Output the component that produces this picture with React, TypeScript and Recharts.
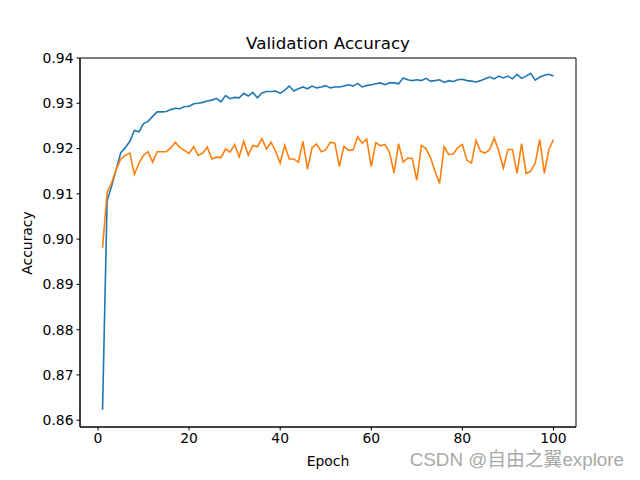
import React from "react";
import { LineChart, Line, XAxis, YAxis, ReferenceArea } from "recharts";

const epochs: number[] = Array.from({ length: 100 }, (_, i) => i + 1);

const trainAcc: number[] = [
  0.8623, 0.9085, 0.9117, 0.9154, 0.9191, 0.9202, 0.9216, 0.9240, 0.9237, 0.9255,
  0.9260, 0.9271, 0.9281, 0.9281, 0.9282, 0.9286, 0.9289, 0.9288, 0.9293, 0.9293,
  0.9299, 0.9300, 0.9302, 0.9305, 0.9307, 0.9311, 0.9303, 0.9317, 0.9310, 0.9313,
  0.9312, 0.9322, 0.9316, 0.9324, 0.9312, 0.9323, 0.9326, 0.9326, 0.9327, 0.9322,
  0.9329, 0.9338, 0.9327, 0.9332, 0.9336, 0.9332, 0.9338, 0.9334, 0.9336, 0.9339,
  0.9334, 0.9336, 0.9336, 0.9338, 0.9341, 0.9338, 0.9344, 0.9336, 0.9339, 0.9341,
  0.9343, 0.9345, 0.9341, 0.9345, 0.9345, 0.9343, 0.9356, 0.9352, 0.9350, 0.9352,
  0.9350, 0.9355, 0.9349, 0.9350, 0.9352, 0.9346, 0.9350, 0.9348, 0.9352, 0.9353,
  0.9350, 0.9349, 0.9347, 0.9350, 0.9354, 0.9358, 0.9354, 0.9360, 0.9356, 0.9360,
  0.9354, 0.9364, 0.9355, 0.9360, 0.9366, 0.9351, 0.9358, 0.9362, 0.9364, 0.9360,
];

const valAcc: number[] = [
  0.8981, 0.9103, 0.9124, 0.9154, 0.9177, 0.9185, 0.9190, 0.9143, 0.9168, 0.9185,
  0.9193, 0.9170, 0.9193, 0.9193, 0.9193, 0.9202, 0.9214, 0.9202, 0.9196, 0.9189,
  0.9204, 0.9185, 0.9190, 0.9203, 0.9177, 0.9181, 0.9180, 0.9199, 0.9192, 0.9209,
  0.9182, 0.9216, 0.9185, 0.9207, 0.9204, 0.9222, 0.9199, 0.9214, 0.9194, 0.9168,
  0.9207, 0.9177, 0.9177, 0.9170, 0.9216, 0.9154, 0.9202, 0.9210, 0.9193, 0.9197,
  0.9214, 0.9212, 0.9160, 0.9205, 0.9196, 0.9197, 0.9226, 0.9212, 0.9221, 0.9160,
  0.9213, 0.9206, 0.9209, 0.9192, 0.9146, 0.9211, 0.9170, 0.9179, 0.9178, 0.9130,
  0.9207, 0.9200, 0.9180, 0.9150, 0.9123, 0.9204, 0.9187, 0.9188, 0.9202, 0.9209,
  0.9174, 0.9168, 0.9218, 0.9194, 0.9190, 0.9198, 0.9223, 0.9194, 0.9157, 0.9198,
  0.9198, 0.9145, 0.9211, 0.9145, 0.9150, 0.9168, 0.9220, 0.9145, 0.9198, 0.9220,
];

const xTicks: number[] = [0, 20, 40, 60, 80, 100];
const yTicks: number[] = [0.86, 0.87, 0.88, 0.89, 0.9, 0.91, 0.92, 0.93, 0.94];

const titleText = "Validation Accuracy";
const xLabel = "Epoch";
const yLabel = "Accuracy";
const watermark = "CSDN @自由之翼explore";

const data = epochs.map((e, i) => ({ epoch: e, train: trainAcc[i], val: valAcc[i] }));

const FONT = "DejaVu Sans, sans-serif";
const X_DOMAIN: [number, number] = [-3.95, 104.95];
const Y_DOMAIN: [number, number] = [0.8585, 0.94];

export default function App() {
  const tickStyle = { fill: "#000", fontSize: 13.9, fontFamily: FONT };
  return (
    <div style={{ position: "absolute", left: 0, top: 0, width: 640, height: 480, background: "#fff", fontFamily: FONT }}>
      <LineChart width={640} height={480} data={data} margin={{ top: 58, right: 64, left: 0, bottom: 0 }}>
        <XAxis
          dataKey="epoch"
          type="number"
          domain={X_DOMAIN}
          ticks={xTicks}
          allowDataOverflow
          height={53}
          tick={tickStyle}
          tickSize={3.5}
          tickMargin={3}
          stroke="#000"
          tickLine={{ stroke: "#000" }}
          axisLine={{ stroke: "#000" }}
        />
        <YAxis
          type="number"
          domain={Y_DOMAIN}
          ticks={yTicks}
          allowDataOverflow
          width={80}
          tick={tickStyle}
          tickSize={3.5}
          tickMargin={3}
          tickFormatter={(v: number) => v.toFixed(2)}
          stroke="#000"
          tickLine={{ stroke: "#000" }}
          axisLine={{ stroke: "#000" }}
        />
        <ReferenceArea
          x1={X_DOMAIN[0]}
          x2={X_DOMAIN[1]}
          y1={Y_DOMAIN[0]}
          y2={Y_DOMAIN[1]}
          fill="none"
          fillOpacity={0}
          stroke="#000"
          strokeWidth={1}
          ifOverflow="visible"
        />
        <Line dataKey="train" stroke="#1f77b4" strokeWidth={1.6} dot={false} isAnimationActive={false} />
        <Line dataKey="val" stroke="#ff7f0e" strokeWidth={1.6} dot={false} isAnimationActive={false} />
      </LineChart>
      <div style={{ position: "absolute", left: 80, width: 496, top: 33, textAlign: "center", fontSize: 16.7, lineHeight: "20px", color: "#000" }}>
        {titleText}
      </div>
      <div style={{ position: "absolute", left: 80, width: 496, top: 453, textAlign: "center", fontSize: 13.9, lineHeight: "17px", color: "#000" }}>
        {xLabel}
      </div>
      <div
        style={{
          position: "absolute",
          left: 27,
          top: 243,
          transform: "translate(-50%, -50%) rotate(-90deg)",
          fontSize: 13.9,
          lineHeight: "17px",
          whiteSpace: "nowrap",
          color: "#000",
        }}
      >
        {yLabel}
      </div>
      <div
        style={{
          position: "absolute",
          right: 16,
          top: 447,
          fontSize: 18.8,
          lineHeight: "25px",
          whiteSpace: "nowrap",
          color: "#a9a9a9",
          fontFamily: "Liberation Sans, Noto Sans CJK SC, sans-serif",
        }}
      >
        {watermark}
      </div>
    </div>
  );
}
